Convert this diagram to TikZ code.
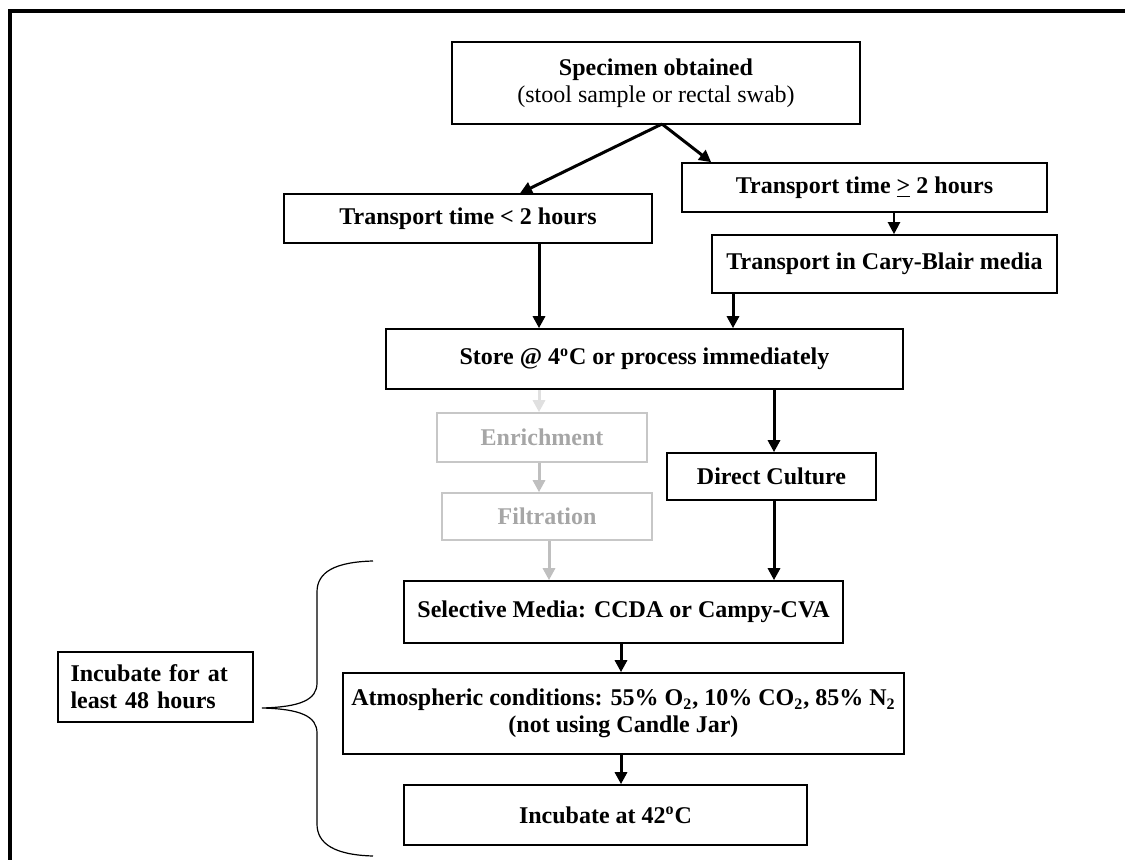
\documentclass[tikz,border=0pt]{standalone}
\usepackage{fontspec}
\setmainfont{Liberation Serif}
\usetikzlibrary{arrows.meta}

\begin{document}
\begin{tikzpicture}
  [x=0.5pt,y=-0.5pt,
   stepN/.style={draw,line width=0.8pt,inner sep=0pt,align=center,
     font={\bfseries\fontsize{12}{13.5}\selectfont}},
   greyN/.style={stepN,draw=black!22,text=black!35},
   flowA/.style={line width=1.5pt,-{Triangle[length=6pt,width=6pt]}},
   greyA/.style={flowA,color=black!25}]

  \useasboundingbox (0,0) rectangle (1125,860);

  % outer frame (only top and left show)
  \draw [line width=2pt] (10,866) -- (10,11) -- (1135,11);

  \coordinate (fork) at (662,124);
  \coordinate (colA) at (539,0);
  \coordinate (colB) at (733,0);
  \coordinate (colC) at (774,0);
  \coordinate (colD) at (621,0);
  \coordinate (colF) at (549,0);
  \coordinate (colT) at (894,0);

  \node[stepN,minimum width=204pt,minimum height=41pt] (spec) at (656,83)
    {Specimen obtained\\{\mdseries (stool sample or rectal swab)}};
  \node[stepN,minimum width=184pt,minimum height=24.5pt] (short) at (468,218.5)
    {Transport time < 2 hours};
  \node[stepN,minimum width=182.5pt,minimum height=24.5pt] (long) at (864.5,187.5)
    {Transport time \underline{>} 2 hours};
  \node[stepN,minimum width=172.5pt,minimum height=29pt] (cary) at (884.5,264)
    {Transport in Cary-Blair media};
  \node[stepN,minimum width=258.5pt,minimum height=30pt] (store) at (644.5,359)
    {Store @ 4\textsuperscript{o}C or process immediately};

  \node[greyN,minimum width=105pt,minimum height=24.5pt] (enrich) at (542,437.5) {Enrichment};
  \node[greyN,minimum width=105pt,minimum height=23.5pt] (filter) at (547,516.5) {Filtration};
  \node[stepN,minimum width=104.5pt,minimum height=23.5pt] (direct) at (771.5,476.5) {Direct Culture};

  \node[stepN,minimum width=219.5pt,minimum height=31pt] (media) at (623.5,612)
    {Selective Media: CCDA or Campy-CVA};
  \node[stepN,minimum width=280.5pt,minimum height=40.5pt] (atmos) at (623.5,713.5)
    {Atmospheric conditions: 55\% O\textsubscript{2}, 10\% CO\textsubscript{2}, 85\% N\textsubscript{2}\\(not using Candle Jar)};
  \node[stepN,minimum width=201.5pt,minimum height=30pt] (incub) at (605.5,815)
    {Incubate at 42\textsuperscript{o}C};

  \node[stepN,align=left,text width=85pt,minimum width=97.5pt,minimum height=35pt] (hold) at (155.5,687)
    {Incubate for at\\least 48 hours};

  \draw [flowA] (fork) -- ([xshift=26pt]short.north);
  \draw [flowA] (fork) -- ([xshift=15pt]long.north west);
  \draw [flowA,line width=1.1pt] (long.south -| colT) -- (cary.north -| colT);
  \draw [flowA] (short.south -| colA) -- (store.north -| colA);
  \draw [flowA] (cary.south -| colB) -- (store.north -| colB);

  \draw [greyA,color=black!12] (store.south -| colA) -- (enrich.north -| colA);
  \draw [greyA] (enrich.south -| colA) -- (filter.north -| colA);
  \draw [greyA] (filter.south -| colF) -- (media.north -| colF);

  \draw [flowA] (store.south -| colC) -- (direct.north -| colC);
  \draw [flowA] (direct.south -| colC) -- (media.north -| colC);
  \draw [flowA] (media.south -| colD) -- (atmos.north -| colD);
  \draw [flowA] (atmos.south -| colD) -- (incub.north -| colD);

  % brace round the incubation steps
  \draw [line width=0.6pt] (373,561) .. controls (335,562) and (317,572) .. (317,592)
    -- (317,683) .. controls (317,700) and (300,707) .. (262,708)
    .. controls (300,709) and (317,716) .. (317,733)
    -- (317,824) .. controls (317,844) and (335,855) .. (373,856);
\end{tikzpicture}
\end{document}
